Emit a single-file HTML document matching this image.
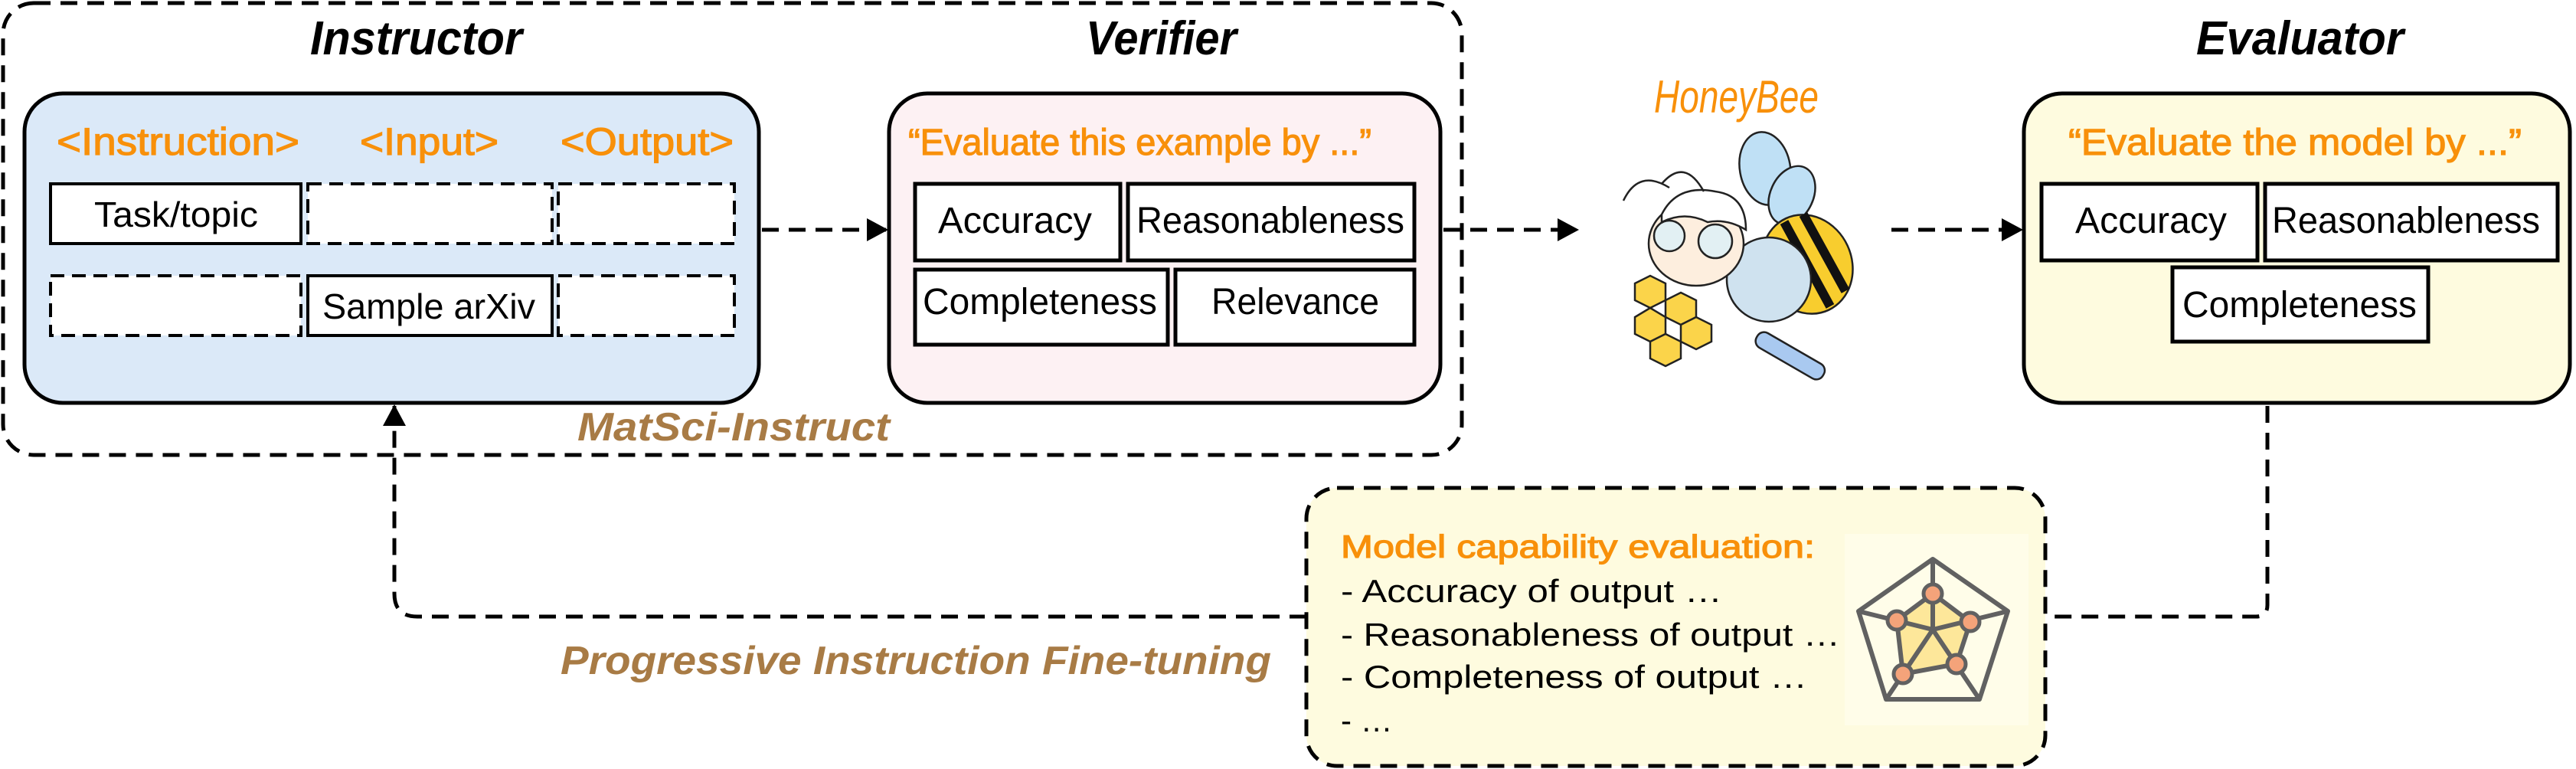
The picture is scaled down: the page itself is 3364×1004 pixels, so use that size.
<!DOCTYPE html>
<html><head><meta charset="utf-8"><style>
html,body{margin:0;padding:0;background:#fff}
svg{display:block}
text{font-family:"Liberation Sans",sans-serif}
.o{fill:#f8900a;stroke:#f8900a;stroke-width:1.2}
</style></head><body>
<svg width="3364" height="1004" viewBox="0 0 3364 1004" xmlns="http://www.w3.org/2000/svg">
<defs>
<marker id="ah" markerWidth="28" markerHeight="30" refX="26" refY="15" orient="auto" markerUnits="userSpaceOnUse" viewBox="0 0 28 30"><path d="M0,0 L28,15 L0,30 z" fill="#000"/></marker>
</defs>
<rect x="4" y="4" width="1905" height="590" rx="40" fill="none" stroke="#000" stroke-width="5" stroke-dasharray="22,13"/>

<text x="405" y="71" font-size="62" font-weight="bold" font-style="italic" textLength="277" lengthAdjust="spacingAndGlyphs">Instructor</text>
<text x="1418" y="71" font-size="62" font-weight="bold" font-style="italic" textLength="197" lengthAdjust="spacingAndGlyphs">Verifier</text>
<text x="2868" y="71" font-size="62" font-weight="bold" font-style="italic" textLength="271" lengthAdjust="spacingAndGlyphs">Evaluator</text>

<rect x="32" y="122" width="959" height="404" rx="50" fill="#dbe9f8" stroke="#000" stroke-width="5"/>
<text class="o" x="74" y="202" font-size="50" textLength="317" lengthAdjust="spacingAndGlyphs">&lt;Instruction&gt;</text>
<text class="o" x="470" y="202" font-size="50" textLength="181" lengthAdjust="spacingAndGlyphs">&lt;Input&gt;</text>
<text class="o" x="732" y="202" font-size="50" textLength="226" lengthAdjust="spacingAndGlyphs">&lt;Output&gt;</text>
<rect x="66" y="240" width="327" height="78" fill="#fff" stroke="#000" stroke-width="4"/>
<text x="123" y="296" font-size="46" textLength="214" lengthAdjust="spacingAndGlyphs">Task/topic</text>
<rect x="402" y="240" width="319" height="78" fill="#fff" stroke="#000" stroke-width="4" stroke-dasharray="18,10"/>
<rect x="729" y="240" width="230" height="78" fill="#fff" stroke="#000" stroke-width="4" stroke-dasharray="18,10"/>
<rect x="66" y="360" width="327" height="78" fill="#fff" stroke="#000" stroke-width="4" stroke-dasharray="18,10"/>
<rect x="402" y="360" width="319" height="78" fill="#fff" stroke="#000" stroke-width="4"/>
<text x="421" y="416" font-size="46" textLength="278" lengthAdjust="spacingAndGlyphs">Sample arXiv</text>
<rect x="729" y="360" width="230" height="78" fill="#fff" stroke="#000" stroke-width="4" stroke-dasharray="18,10"/>

<rect x="1161" y="122" width="720" height="404" rx="50" fill="#fdf1f3" stroke="#000" stroke-width="5"/>
<text class="o" x="1186" y="202" font-size="48" textLength="605" lengthAdjust="spacingAndGlyphs">“Evaluate this example by ...”</text>
<rect x="1195" y="240" width="268" height="100" fill="#fff" stroke="#000" stroke-width="5"/>
<text x="1225" y="304" font-size="48" textLength="201" lengthAdjust="spacingAndGlyphs">Accuracy</text>
<rect x="1473" y="240" width="374" height="100" fill="#fff" stroke="#000" stroke-width="5"/>
<text x="1484" y="304" font-size="48" textLength="350" lengthAdjust="spacingAndGlyphs">Reasonableness</text>
<rect x="1195" y="352" width="330" height="98" fill="#fff" stroke="#000" stroke-width="5"/>
<text x="1205" y="410" font-size="48" textLength="306" lengthAdjust="spacingAndGlyphs">Completeness</text>
<rect x="1535" y="352" width="312" height="98" fill="#fff" stroke="#000" stroke-width="5"/>
<text x="1582" y="410" font-size="48" textLength="219" lengthAdjust="spacingAndGlyphs">Relevance</text>

<rect x="2643" y="122" width="713" height="404" rx="50" fill="#fefbdf" stroke="#000" stroke-width="5"/>
<text class="o" x="2701" y="202" font-size="48" textLength="592" lengthAdjust="spacingAndGlyphs">“Evaluate the model by ...”</text>
<rect x="2666" y="240" width="282" height="100" fill="#fff" stroke="#000" stroke-width="5"/>
<text x="2710" y="304" font-size="48" textLength="198" lengthAdjust="spacingAndGlyphs">Accuracy</text>
<rect x="2958" y="240" width="382" height="100" fill="#fff" stroke="#000" stroke-width="5"/>
<text x="2967" y="304" font-size="48" textLength="350" lengthAdjust="spacingAndGlyphs">Reasonableness</text>
<rect x="2837" y="349" width="334" height="97" fill="#fff" stroke="#000" stroke-width="5"/>
<text x="2850" y="414" font-size="48" textLength="306" lengthAdjust="spacingAndGlyphs">Completeness</text>

<line x1="995" y1="300" x2="1158" y2="300" stroke="#000" stroke-width="5" stroke-dasharray="22,13" marker-end="url(#ah)"/>
<line x1="1885" y1="300" x2="2060" y2="300" stroke="#000" stroke-width="5" stroke-dasharray="22,13" marker-end="url(#ah)"/>
<line x1="2470" y1="300" x2="2640" y2="300" stroke="#000" stroke-width="5" stroke-dasharray="22,13" marker-end="url(#ah)"/>

<path d="M2961,530 L2961,790 Q2961,805 2946,805 L2671,805" fill="none" stroke="#000" stroke-width="5" stroke-dasharray="22,13"/>
<path d="M1706,805 L545,805 Q515,805 515,775 L515,530" fill="none" stroke="#000" stroke-width="5" stroke-dasharray="22,13" marker-end="url(#ah)"/>

<text x="754" y="575" font-size="52" font-weight="bold" font-style="italic" fill="#a87b45" textLength="408" lengthAdjust="spacingAndGlyphs">MatSci-Instruct</text>
<text x="732" y="880" font-size="52" font-weight="bold" font-style="italic" fill="#a87b45" textLength="928" lengthAdjust="spacingAndGlyphs">Progressive Instruction Fine-tuning</text>

<rect x="1706" y="637" width="965" height="363" rx="40" fill="#fefbdf" stroke="#000" stroke-width="5" stroke-dasharray="22,13"/>
<text class="o" x="1751" y="728" font-size="42" textLength="619" lengthAdjust="spacingAndGlyphs">Model capability evaluation:</text>
<text x="1751" y="786" font-size="42" textLength="498" lengthAdjust="spacingAndGlyphs">- Accuracy of output …</text>
<text x="1751" y="843" font-size="42" textLength="652" lengthAdjust="spacingAndGlyphs">- Reasonableness of output …</text>
<text x="1751" y="898" font-size="42" textLength="609" lengthAdjust="spacingAndGlyphs">- Completeness of output …</text>
<text x="1751" y="955" font-size="42">- …</text>

<rect x="2409" y="697" width="240" height="250" fill="#fffde9"/>
<polygon points="2524,775 2573,812 2555,867 2485,880 2477,810" fill="#fde79a"/>
<polygon points="2524,730 2622,798 2585,913 2463,913 2427,798" fill="none" stroke="#616161" stroke-width="6" stroke-linejoin="round"/>
<g stroke="#616161" stroke-width="6" fill="none">
<line x1="2524" y1="730" x2="2524" y2="822"/>
<line x1="2427" y1="798" x2="2524" y2="822"/>
<line x1="2622" y1="798" x2="2524" y2="822"/>
<line x1="2463" y1="913" x2="2524" y2="822"/>
<line x1="2585" y1="913" x2="2524" y2="822"/>
<polygon points="2524,775 2573,812 2555,867 2485,880 2477,810"/>
</g>
<g fill="#f4a37a" stroke="#616161" stroke-width="5">
<circle cx="2524" cy="775" r="12"/><circle cx="2573" cy="812" r="12"/><circle cx="2555" cy="867" r="12"/><circle cx="2485" cy="880" r="12"/><circle cx="2477" cy="810" r="12"/>
</g>

<text x="2160" y="147" font-size="60" font-style="italic" fill="#f8900a" textLength="215" lengthAdjust="spacingAndGlyphs" font-family="'Liberation Serif',serif">HoneyBee</text>
<g stroke="#222" stroke-width="2.5">
<ellipse cx="2305" cy="220" rx="33" ry="48" fill="#bfe0f5" transform="rotate(-10 2305 220)"/>
<ellipse cx="2340" cy="255" rx="28" ry="40" fill="#bfe0f5" transform="rotate(25 2340 255)"/>
<g fill="#fbd44a">
<polygon points="2135,370 2155,360 2175,370 2175,392 2155,402 2135,392"/>
<polygon points="2175,392 2195,382 2215,392 2215,414 2195,424 2175,414"/>
<polygon points="2155,402 2175,414 2175,436 2155,446 2135,436 2135,414"/>
<polygon points="2195,424 2215,414 2235,424 2235,446 2215,456 2195,446"/>
<polygon points="2155,446 2175,436 2195,446 2195,468 2175,478 2155,468"/>
</g>
<ellipse cx="2360" cy="345" rx="58" ry="66" fill="#f8cd2e" transform="rotate(-25 2360 345)"/>
<path d="M2330,290 L2390,400 M2355,280 L2410,380" stroke="#111" stroke-width="12"/>
<ellipse cx="2310" cy="365" rx="55" ry="55" fill="#cfe2ef"/>
<ellipse cx="2215" cy="318" rx="62" ry="55" fill="#fdeede"/>
<path d="M2170,280 Q2190,240 2240,250 Q2280,255 2280,300 Q2255,285 2230,290 Q2200,275 2170,290 z" fill="#fff"/>
<circle cx="2180" cy="308" r="20" fill="#e2f0f3"/><circle cx="2240" cy="315" r="22" fill="#e2f0f3"/>
<path d="M2120,262 Q2140,220 2180,245 M2170,240 Q2200,205 2225,250" fill="none"/>
<rect x="2300" y="430" width="100" height="22" rx="10" fill="#a9c9f0" transform="rotate(30 2300 430)"/>
</g>
</svg>
</body></html>
